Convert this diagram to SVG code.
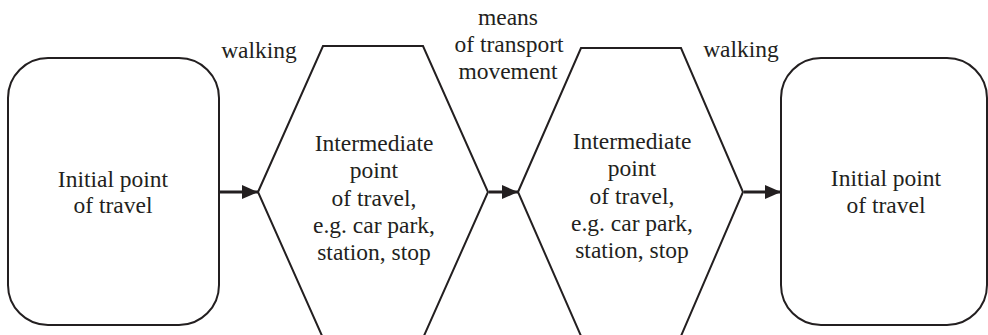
<svg xmlns="http://www.w3.org/2000/svg" width="988" height="335" viewBox="0 0 988 335">
<style>
.shape{fill:#fff;stroke:#231f20;stroke-width:2;stroke-linejoin:miter}
.t{font-family:'Liberation Serif','Times New Roman','DejaVu Serif',serif;font-size:23.5px;fill:#231f20;text-anchor:middle}
.conn{stroke:#231f20;stroke-width:3;fill:none}
</style>
<defs>
<marker id="ah" markerUnits="userSpaceOnUse" markerWidth="16" markerHeight="16" viewBox="0 0 16 16" refX="16" refY="8" orient="auto">
<path d="M0,1 L16,8 L0,15 Z" fill="#231f20"/>
</marker>
</defs>
<rect width="988" height="335" fill="#fff"/>
<g id="connectors">
<line class="conn" x1="220" y1="192" x2="258" y2="192" marker-end="url(#ah)"/>
<line class="conn" x1="489" y1="192" x2="518" y2="192" marker-end="url(#ah)"/>
<line class="conn" x1="744" y1="192" x2="781" y2="192" marker-end="url(#ah)"/>
</g>
<g id="start">
<rect class="shape" x="8" y="58" width="211" height="267" rx="40" ry="40"/>
<text class="t" x="113" y="187" font-family="Liberation Serif">Initial point</text>
<text class="t" x="113" y="213" font-family="Liberation Serif">of travel</text>
</g>
<g id="intermediate1">
<polygon class="shape" points="258,192 323,46 423,46 488,192 423,338 323,338"/>
<text class="t" x="374" y="151">Intermediate</text>
<text class="t" x="374" y="178">point</text>
<text class="t" x="374" y="206">of travel,</text>
<text class="t" x="374" y="233">e.g. car park,</text>
<text class="t" x="374" y="260">station, stop</text>
</g>
<g id="intermediate2">
<polygon class="shape" points="518,192 581,48 681,48 743,192 681,336 581,336"/>
<text class="t" x="632" y="149">Intermediate</text>
<text class="t" x="632" y="176">point</text>
<text class="t" x="632" y="204">of travel,</text>
<text class="t" x="632" y="231">e.g. car park,</text>
<text class="t" x="632" y="258">station, stop</text>
</g>
<g id="end">
<rect class="shape" x="781" y="58" width="206" height="267" rx="40" ry="40"/>
<text class="t" x="886" y="186">Initial point</text>
<text class="t" x="886" y="213">of travel</text>
</g>
<g id="labels">
<text class="t" x="259" y="58">walking</text>
<text class="t" x="508" y="25">means</text>
<text class="t" x="509" y="52">of transport</text>
<text class="t" x="508" y="79">movement</text>
<text class="t" x="741" y="57">walking</text>
</g>
</svg>
